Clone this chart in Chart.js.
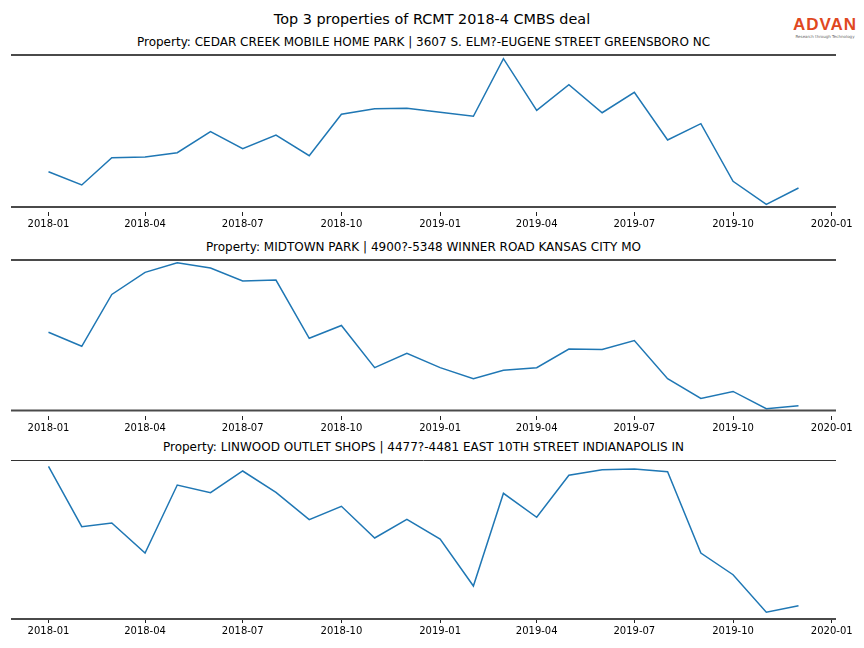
<!DOCTYPE html>
<html>
<head>
<meta charset="utf-8">
<script src="https://cdn.jsdelivr.net/npm/chart.js@4.4.1/dist/chart.umd.min.js"></script>
<style>
  html, body { margin: 0; padding: 0; background: #fff; }
  body { width: 864px; height: 648px; position: relative; overflow: hidden; font-family: "DejaVu Sans", sans-serif; }
  .ttl { position: absolute; left: 0; white-space: nowrap; color: #000; text-align: center; }
  canvas { position: absolute; left: 0; }
  #logo { position: absolute; left: 788px; top: 16px; width: 74px; text-align: center; }
  #logo .big { font-family: "Liberation Sans", Arial, sans-serif; font-size: 17px; font-weight: bold; letter-spacing: 1px; color: #e0481f; line-height: 17px; }
  #logo .small { font-size: 4px; color: #666; line-height: 5px; margin-top: 1px; }
</style>
</head>
<body>
<div class="ttl" style="top:11px; width:864px; font-size:14.4px; line-height:17px;">Top 3 properties of RCMT 2018-4 CMBS deal</div>
<div id="logo"><div class="big">ADVAN</div><div class="small">Research through Technology</div></div>

<div class="ttl" id="t0" style="width:847px; font-size:12px; line-height:14px;"></div>
<div class="ttl" id="t1" style="width:847px; font-size:12px; line-height:14px;"></div>
<div class="ttl" id="t2" style="width:847px; font-size:12px; line-height:14px;"></div>
<canvas id="c0" width="864"></canvas>
<canvas id="c1" width="864"></canvas>
<canvas id="c2" width="864"></canvas>

<script>
// monthly observations
const months = ['2018-01', '2018-02', '2018-03', '2018-04', '2018-05', '2018-06',
    '2018-07', '2018-08', '2018-09', '2018-10', '2018-11', '2018-12',
    '2019-01', '2019-02', '2019-03', '2019-04', '2019-05', '2019-06',
    '2019-07', '2019-08', '2019-09', '2019-10', '2019-11', '2019-12'];

const tickLabels = ['2018-01', '2018-04', '2018-07', '2018-10', '2019-01',
    '2019-04', '2019-07', '2019-10', '2020-01'];

const propertyNames = [
    'Property: CEDAR CREEK MOBILE HOME PARK | 3607 S. ELM?-EUGENE STREET GREENSBORO NC',
    'Property: MIDTOWN PARK | 4900?-5348 WINNER ROAD KANSAS CITY MO',
    'Property: LINWOOD OUTLET SHOPS | 4477?-4481 EAST 10TH STREET INDIANAPOLIS IN'
];

const cedarCreek = [35.3, 22, 49.3, 50, 54.3, 75.3, 58.3, 72, 51.3, 92.7, 98.3, 98.7,
    94.7, 90.7, 148.3, 96.7, 122.3, 94.3, 114.7, 67, 83.3, 25.7, 2.7, 19];
const midtownPark = [78, 64, 115.7, 137.7, 147.3, 142, 129, 130, 72, 84.7, 42.7, 57,
    42.7, 31.7, 40, 42.7, 61.3, 60.7, 69.7, 31.7, 12, 19, 1.7, 4.7];
const linwoodOutlet = [152.7, 92.3, 96, 66, 134, 126.3, 148, 126.7, 99.3, 112.7, 81, 99.7,
    80, 33, 125.7, 101.7, 143.7, 149.3, 150, 147.3, 66, 44.3, 6.7, 13.3];

// y limits and the levels of the horizontal guide lines
const yLimits = [[-5, 152], [-5.5, 150], [0, 159]];
const hLines = [[0, 152], [0, 150], [0, 159]];

// page placement of the three axes (top / bottom in px)
const panels = [
    { top: 55, bottom: 212, topWidth: 2 },
    { top: 260, bottom: 416, topWidth: 2 },
    { top: 460, bottom: 619, topWidth: 1 }
];

const DAY = 86400000;
const base = Date.UTC(2018, 0, 1);
const toDay = (s) => { const [y, m] = s.split('-').map(Number); return (Date.UTC(y, m - 1, 1) - base) / DAY; };
const fromDay = (d) => { const t = new Date(base + d * DAY); return t.getUTCFullYear() + '-' + String(t.getUTCMonth() + 1).padStart(2, '0'); };

const xs = months.map(toDay);
const tickDays = tickLabels.map(toDay);
const span = xs[xs.length - 1] - xs[0];
const xMin = xs[0] - span * 0.05, xMax = xs[xs.length - 1] + span * 0.05;

const linesPlugin = {
    id: 'hlines',
    afterDraw(chart, args, opts) {
        const { ctx, chartArea: a } = chart;
        const y = chart.scales.y;
        ctx.save();
        opts.levels.forEach((lv, k) => {
            let py = y.getPixelForValue(lv);
            const w = k === 1 ? opts.topWidth : 2;
            if (w === 1) { py = Math.round(py) + 0.5; ctx.strokeStyle = '#333'; } else { ctx.strokeStyle = '#4a4a4a'; }
            ctx.lineWidth = w;
            ctx.beginPath(); ctx.moveTo(a.left, py); ctx.lineTo(a.right, py); ctx.stroke();
        });
        ctx.restore();
    }
};

const series = [cedarCreek, midtownPark, linwoodOutlet];
const AXIS_H = 24, PAD_TOP = 4;

series.forEach((vals, i) => {
    const p = panels[i];
    const t = document.getElementById('t' + i);
    t.textContent = propertyNames[i];
    t.style.top = (p.top - 20) + 'px';

    const cvs = document.getElementById('c' + i);
    cvs.height = p.bottom - p.top + PAD_TOP + AXIS_H;
    cvs.style.top = (p.top - PAD_TOP) + 'px';

    new Chart(cvs.getContext('2d'), {
        type: 'line',
        data: {
            datasets: [{
                data: vals.map((v, k) => ({ x: xs[k], y: v })),
                borderColor: '#1f77b4', borderWidth: 1.5,
                pointRadius: 0, tension: 0, fill: false
            }]
        },
        plugins: [linesPlugin],
        options: {
            responsive: false, animation: false,
            layout: { padding: { top: PAD_TOP, left: 11, right: 28, bottom: 0 } },
            plugins: {
                legend: { display: false }, tooltip: { enabled: false },
                hlines: { levels: hLines[i], topWidth: p.topWidth }
            },
            scales: {
                x: {
                    type: 'linear', min: xMin, max: xMax,
                    afterBuildTicks: (scale) => { scale.ticks = tickDays.map(v => ({ value: v })); },
                    afterFit: (scale) => { scale.height = AXIS_H; },
                    border: { display: false },
                    grid: { drawOnChartArea: false, drawTicks: true, tickLength: 4, color: '#222', lineWidth: 1 },
                    ticks: {
                        autoSkip: false, maxRotation: 0, padding: 2, color: '#000',
                        font: { family: 'DejaVu Sans', size: 10 },
                        callback: (v) => fromDay(v)
                    }
                },
                y: { display: false, min: yLimits[i][0], max: yLimits[i][1] }
            }
        }
    });
});
</script>
</body>
</html>
